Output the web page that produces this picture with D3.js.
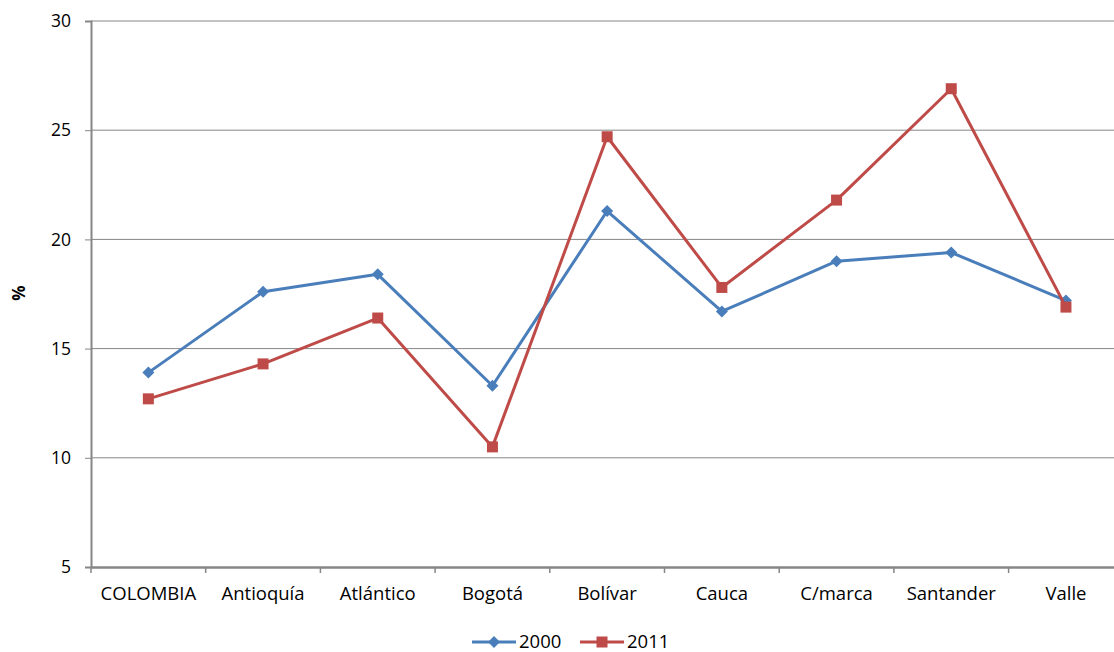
<!DOCTYPE html>
<html>
<head>
<meta charset="utf-8">
<script src="https://cdn.jsdelivr.net/npm/d3@7"></script>
<style>
  html, body { margin: 0; padding: 0; background: #fff; }
  svg { display: block; font-family: "Open Sans", "Noto Sans", sans-serif; }
</style>
</head>
<body>
<svg id="chart" width="1114" height="652"></svg>
<script>
// Regions on the horizontal axis
const categories = ["COLOMBIA", "Antioquía", "Atlántico", "Bogotá", "Bolívar", "Cauca", "C/marca", "Santander", "Valle"];
// Percentages per year
const values2000 = [13.9, 17.6, 18.4, 13.3, 21.3, 16.7, 19.0, 19.4, 17.2];
const values2011 = [12.7, 14.3, 16.4, 10.5, 24.7, 17.8, 21.8, 26.9, 16.9];
const seriesNames = ["2000", "2011"];
const yTicks = [5, 10, 15, 20, 25, 30];

const series = [
  { name: seriesNames[0], values: values2000, color: "#4A7EBB", marker: "diamond" },
  { name: seriesNames[1], values: values2011, color: "#BE4B48", marker: "square" }
];

const svg = d3.select("#chart");
const plotLeft = 91, plotTop = 21, plotBottom = 567, bandW = 114.7;
const plotRight = plotLeft + bandW * categories.length;

const x = d3.scaleBand().domain(categories).range([plotLeft, plotRight]).padding(0);
const y = d3.scaleLinear().domain([5, 30]).range([plotBottom, plotTop]);

// Horizontal gridlines
svg.append("g")
  .selectAll("line")
  .data(yTicks.filter(t => t !== 5))
  .join("line")
  .attr("x1", plotLeft).attr("x2", 1114)
  .attr("y1", d => y(d)).attr("y2", d => y(d))
  .attr("stroke", "#868686").attr("stroke-width", 1);

// Y axis
const yAxis = svg.append("g")
  .attr("transform", `translate(${plotLeft},0)`)
  .call(d3.axisLeft(y).tickValues(yTicks).tickSize(6).tickPadding(14).tickFormat(d3.format("d")));
yAxis.select(".domain").attr("stroke", "#868686").attr("stroke-width", 2);
yAxis.selectAll(".tick line").attr("stroke", "#868686").attr("stroke-width", 1);
yAxis.selectAll(".tick text").attr("font-size", 17.5).attr("fill", "#000")
  .attr("x", -20)
  .attr("font-family", "Open Sans, sans-serif");

// X axis
const xAxis = svg.append("g")
  .attr("transform", `translate(0,${plotBottom})`)
  .call(d3.axisBottom(x).tickSize(0).tickPadding(20));
xAxis.select(".domain").attr("stroke", "#868686").attr("stroke-width", 2.5);
xAxis.selectAll(".tick text").attr("font-size", 18.5).attr("fill", "#000")
  .attr("font-family", "Open Sans, sans-serif");
// Band separators below the axis
svg.append("g")
  .selectAll("line")
  .data(d3.range(categories.length + 1))
  .join("line")
  .attr("x1", i => plotLeft + i * bandW).attr("x2", i => plotLeft + i * bandW)
  .attr("y1", plotBottom).attr("y2", plotBottom + 6)
  .attr("stroke", "#868686").attr("stroke-width", 1.5);

// Axis title
svg.append("text")
  .attr("transform", "translate(25,293) rotate(-90)")
  .attr("text-anchor", "middle")
  .attr("font-size", 17).attr("font-weight", "bold")
  .text("%");

const cx = d => x(d) + x.bandwidth() / 2;
const line = d3.line().x(d => cx(d.cat)).y(d => y(d.v));

function marker(sel, type, color) {
  if (type === "diamond") {
    sel.append("path")
      .attr("d", "M0,-6L6,0L0,6L-6,0Z")
      .attr("fill", color);
  } else {
    sel.append("rect")
      .attr("x", -5.5).attr("y", -5.5).attr("width", 11).attr("height", 11)
      .attr("fill", color);
  }
}

series.forEach(s => {
  const pts = s.values.map((v, i) => ({ cat: categories[i], v }));
  svg.append("path")
    .datum(pts)
    .attr("d", line)
    .attr("fill", "none")
    .attr("stroke", s.color)
    .attr("stroke-width", 3)
    .attr("stroke-linejoin", "round");
  svg.append("g")
    .selectAll("g")
    .data(pts)
    .join("g")
    .attr("transform", d => `translate(${cx(d.cat)},${y(d.v)})`)
    .each(function () { marker(d3.select(this), s.marker, s.color); });
});

// Legend
const legendX = [472, 580];
series.forEach((s, i) => {
  const g = svg.append("g").attr("transform", `translate(${legendX[i]},642)`);
  g.append("line").attr("x1", 0).attr("x2", 44).attr("y1", 0).attr("y2", 0)
    .attr("stroke", s.color).attr("stroke-width", 3);
  const m = g.append("g").attr("transform", "translate(22,0)");
  marker(m, s.marker, s.color);
  g.append("text").attr("x", 47).attr("y", 0).attr("dy", "0.35em")
    .attr("font-size", 18.5).text(s.name);
});
</script>
</body>
</html>
